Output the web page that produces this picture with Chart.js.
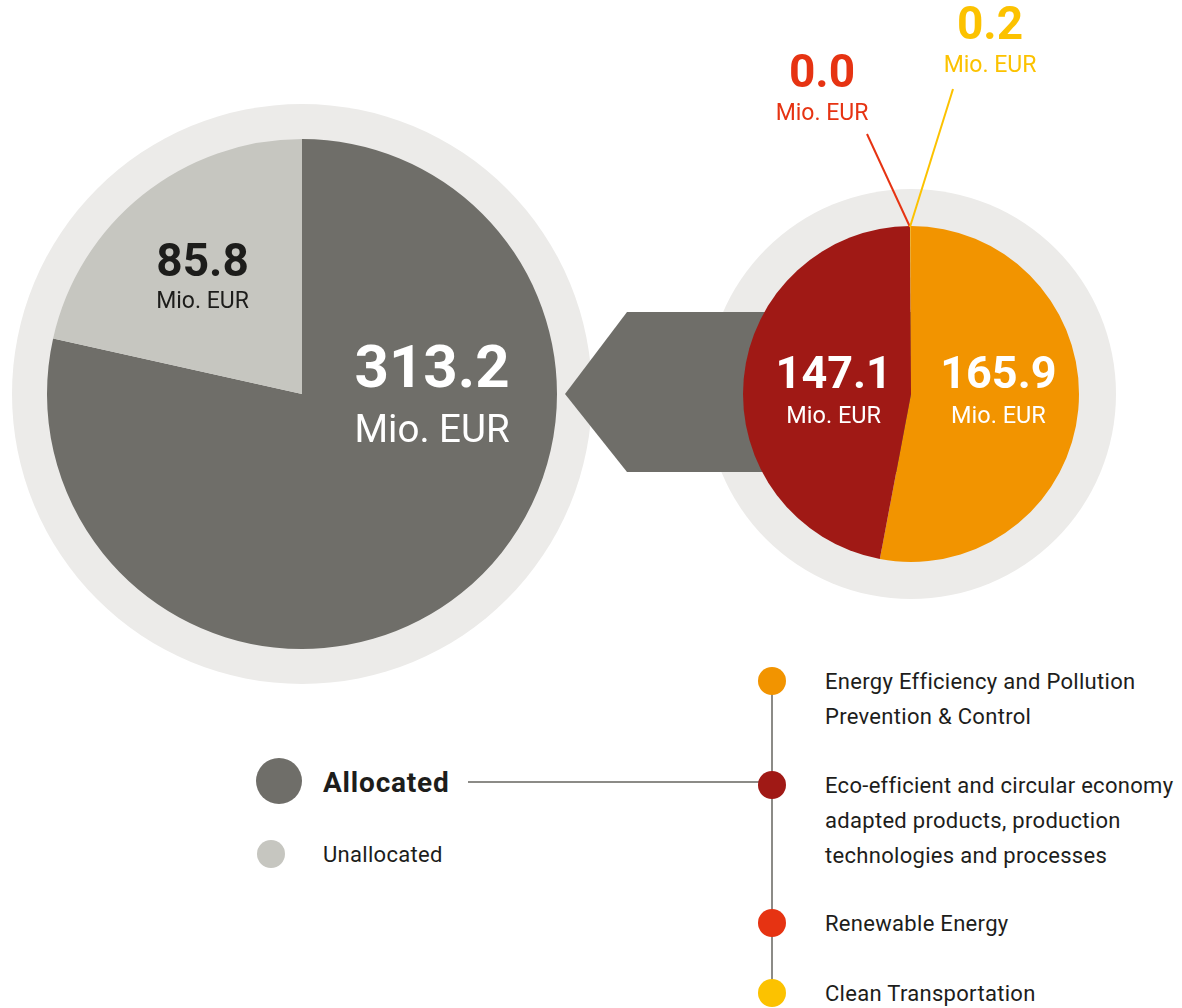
<!DOCTYPE html>
<html>
<head>
<meta charset="utf-8">
<script src="https://cdn.jsdelivr.net/npm/chart.js@4.4.1/dist/chart.umd.min.js"></script>
<style>
  html, body { margin: 0; padding: 0; background: #fff; }
  body { width: 1182px; height: 1008px; position: relative; overflow: hidden; font-family: Roboto, "Noto Sans", sans-serif; color: #1d1d1b; }
  canvas { position: absolute; }
  #overview-chart { left: 2px; top: 94px; }
  #split-chart { left: 540px; top: 0; }
  .legend-line { position: absolute; background: #8c8b87; }
  .legend-dot { position: absolute; border-radius: 50%; }
  .legend-text { position: absolute; white-space: nowrap; letter-spacing: 0.3px; }
</style>
</head>
<body>
<canvas id="overview-chart" width="600" height="600"></canvas>
<canvas id="split-chart" width="642" height="640"></canvas>
<div id="legend"></div>
<script>
// left pie: allocated vs unallocated
const overviewLabels = ["Allocated", "Unallocated"];
const overviewValues = [313.2, 85.8];
const overviewColors = ["#6f6e69", "#c6c6c0"];

// right pie: allocation by category
const categoryLabels = [
  "Energy Efficiency and Pollution\nPrevention & Control",
  "Eco-efficient and circular economy\nadapted products, production\ntechnologies and processes",
  "Renewable Energy",
  "Clean Transportation",
];
const categoryValues = [165.9, 147.1, 0.0, 0.2];
const categoryColors = ["#f29400", "#a01915", "#e63312", "#fcc200"];

const unit = "Mio. EUR";
const ringColor = "#ecebe9";
const fontFamily = "Roboto, 'Noto Sans', sans-serif";

const fmt = (v) => v.toFixed(1);

const drawRing = (chart, extra) => {
  const arc = chart.getDatasetMeta(0).data[0];
  if (!arc) return;
  const { ctx } = chart;
  ctx.save();
  ctx.beginPath();
  ctx.arc(arc.x, arc.y, arc.outerRadius + extra, 0, Math.PI * 2);
  ctx.fillStyle = ringColor;
  ctx.fill();
  ctx.restore();
};

const drawValue = (ctx, x, y, value, color, bigSize, smallSize, gap) => {
  ctx.save();
  ctx.fillStyle = color;
  ctx.textAlign = "center";
  ctx.textBaseline = "middle";
  ctx.font = `bold ${bigSize}px ${fontFamily}`;
  ctx.fillText(fmt(value), x, y);
  ctx.font = `${smallSize}px ${fontFamily}`;
  ctx.fillText(unit, x, y + gap);
  ctx.restore();
};

const overviewPlugin = {
  id: "overviewDecor",
  beforeDatasetsDraw(chart) {
    drawRing(chart, 35);
  },
  afterDatasetsDraw(chart) {
    const arc = chart.getDatasetMeta(0).data[0];
    const r = arc.outerRadius;
    const { ctx } = chart;
    // allocated label sits right of centre, unallocated in its slice
    drawValue(ctx, arc.x + r * 0.51, arc.y - 22, overviewValues[0], "#ffffff", 60, 38.5, 60);
    drawValue(ctx, arc.x - r * 0.39, arc.y - 130, overviewValues[1], "#1d1d1b", 46, 23, 38);
  },
};

new Chart(document.getElementById("overview-chart"), {
  type: "pie",
  data: {
    labels: overviewLabels,
    datasets: [{ data: overviewValues, backgroundColor: overviewColors, borderWidth: 0 }],
  },
  options: {
    responsive: false,
    animation: false,
    layout: { padding: 45 },
    plugins: { legend: { display: false }, tooltip: { enabled: false } },
  },
  plugins: [overviewPlugin],
});

const splitPlugin = {
  id: "splitDecor",
  beforeDatasetsDraw(chart) {
    drawRing(chart, 37);
    const arc = chart.getDatasetMeta(0).data[0];
    const { ctx } = chart;
    // arrow pointing back to the left pie
    ctx.save();
    ctx.beginPath();
    ctx.moveTo(arc.x - 346, arc.y);
    ctx.lineTo(arc.x - 284, arc.y - 82);
    ctx.lineTo(arc.x, arc.y - 82);
    ctx.lineTo(arc.x, arc.y + 78);
    ctx.lineTo(arc.x - 284, arc.y + 78);
    ctx.closePath();
    ctx.fillStyle = overviewColors[0];
    ctx.fill();
    ctx.restore();
  },
  afterDatasetsDraw(chart) {
    const arc = chart.getDatasetMeta(0).data[0];
    const r = arc.outerRadius;
    const { ctx } = chart;
    drawValue(ctx, arc.x + r * 0.52, arc.y - 17, categoryValues[0], "#ffffff", 45, 23.5, 40);
    drawValue(ctx, arc.x - r * 0.46, arc.y - 17, categoryValues[1], "#ffffff", 45, 23.5, 40);

    // small slices get labels above the pie with leader lines
    const topY = arc.y - r;
    const leaders = [
      { value: categoryValues[2], color: categoryColors[2], x: arc.x - 89, y: 75, from: [arc.x - 44, 134] },
      { value: categoryValues[3], color: categoryColors[3], x: arc.x + 79, y: 27, from: [arc.x + 42, 89] },
    ];
    leaders.forEach((l) => {
      ctx.save();
      ctx.strokeStyle = l.color;
      ctx.lineWidth = 2;
      ctx.beginPath();
      ctx.moveTo(l.from[0], l.from[1]);
      ctx.lineTo(arc.x - 1, topY + 1);
      ctx.stroke();
      ctx.restore();
      drawValue(ctx, l.x, l.y, l.value, l.color, 46, 23, 39);
    });
  },
};

new Chart(document.getElementById("split-chart"), {
  type: "pie",
  data: {
    labels: categoryLabels,
    datasets: [{ data: categoryValues, backgroundColor: categoryColors, borderWidth: 0 }],
  },
  options: {
    responsive: false,
    animation: false,
    layout: { padding: { left: 203, right: 103, top: 226, bottom: 78 } },
    plugins: { legend: { display: false }, tooltip: { enabled: false } },
  },
  plugins: [splitPlugin],
});

// legend
const legend = document.getElementById("legend");
const add = (cls, style, text) => {
  const el = document.createElement("div");
  el.className = cls;
  Object.assign(el.style, style);
  if (text) el.textContent = text;
  legend.appendChild(el);
  return el;
};

const spineX = 772;
const catY = [681, 785, 923, 993];
const lineH = 35;

add("legend-line", { left: "468px", top: "781px", width: spineX - 468 + "px", height: "2px" });
add("legend-line", { left: spineX - 1 + "px", top: catY[0] + "px", width: "2px", height: catY[3] - catY[0] + "px" });

add("legend-dot", { left: 279 - 23 + "px", top: 781 - 23 + "px", width: "46px", height: "46px", background: overviewColors[0] });
add("legend-text", { left: "323px", top: 783 - 19 + "px", lineHeight: "38px", fontSize: "28px", fontWeight: "bold", letterSpacing: "0.8px" }, overviewLabels[0]);
add("legend-dot", { left: 271 - 14 + "px", top: 854 - 14 + "px", width: "28px", height: "28px", background: overviewColors[1] });
add("legend-text", { left: "323px", top: 855 - 16 + "px", lineHeight: "32px", fontSize: "22px" }, overviewLabels[1]);

categoryLabels.forEach((label, i) => {
  add("legend-dot", { left: spineX - 14 + "px", top: catY[i] - 14 + "px", width: "28px", height: "28px", background: categoryColors[i] });
  label.split("\n").forEach((line, j) => {
    add("legend-text", { left: "825px", top: catY[i] - lineH / 2 + j * lineH + "px", lineHeight: lineH + "px", fontSize: "22px" }, line);
  });
});
</script>
</body>
</html>
